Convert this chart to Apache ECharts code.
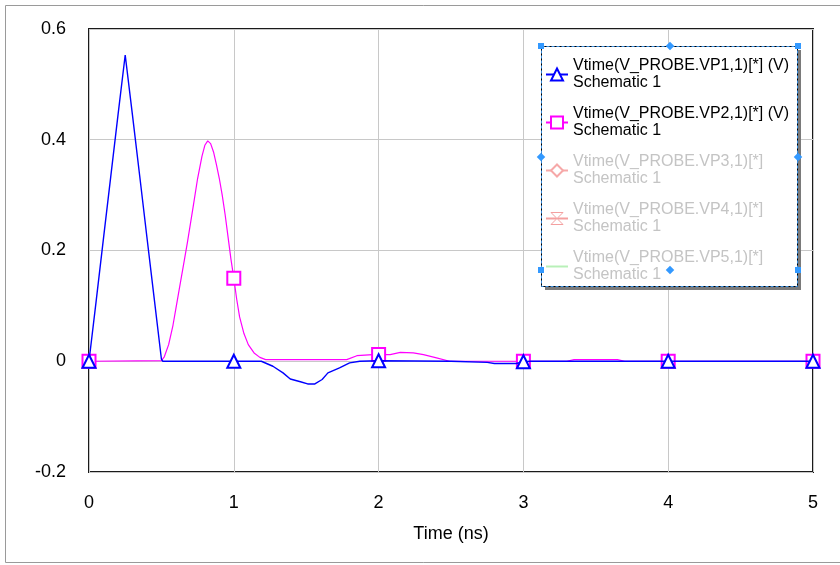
<!DOCTYPE html>
<html>
<head>
<meta charset="utf-8">
<script src="https://cdn.jsdelivr.net/npm/echarts@6/dist/echarts.min.js"></script>
<style>
  html, body { margin: 0; padding: 0; background: #fff; }
  #chart { width: 840px; height: 565px; }
</style>
</head>
<body>
<div id="chart"></div>
<script>
// values (time in ns, voltage in V)
const vp1Time = [0, 0.05, 0.1, 0.15, 0.2, 0.25, 0.3, 0.35, 0.4, 0.45, 0.5, 0.51, 1, 1.19, 1.27, 1.34, 1.39, 1.46, 1.51, 1.56, 1.61, 1.65, 1.73, 1.8, 1.87, 2, 2.5, 2.75, 2.8, 2.95, 3, 3.05, 4, 5]
const vp1Volt = [0, 0.11, 0.222, 0.333, 0.444, 0.553, 0.445, 0.335, 0.224, 0.114, 0.004, 0, 0, 0, -0.009, -0.021, -0.032, -0.037, -0.041, -0.041, -0.033, -0.021, -0.012, -0.003, 0, 0.001, 0, -0.002, -0.004, -0.004, -0.001, 0, 0, 0]

const vp2Time = [0, 0.5, 0.52, 0.55, 0.58, 0.6, 0.63, 0.66, 0.68, 0.72, 0.75, 0.78, 0.8, 0.82, 0.84, 0.86, 0.88, 0.9, 0.92, 0.94, 0.96, 0.98, 1, 1.02, 1.04, 1.07, 1.1, 1.14, 1.18, 1.22, 1.78, 1.85, 1.96, 2, 2.08, 2.15, 2.24, 2.31, 2.4, 2.49, 3, 3.3, 3.35, 3.65, 3.7, 4, 5]
const vp2Volt = [0, 0.001, 0.008, 0.03, 0.065, 0.095, 0.14, 0.185, 0.215, 0.28, 0.33, 0.37, 0.39, 0.398, 0.393, 0.378, 0.355, 0.33, 0.3, 0.265, 0.225, 0.185, 0.15, 0.112, 0.08, 0.05, 0.03, 0.015, 0.007, 0.003, 0.003, 0.01, 0.012, 0.012, 0.012, 0.016, 0.015, 0.012, 0.006, 0, 0, 0, 0.003, 0.003, 0, 0, 0]

const xTicks = [0, 1, 2, 3, 4, 5]
const yTicks = [-0.2, 0, 0.2, 0.4, 0.6]

const seriesNames = [
  'Vtime(V_PROBE.VP1,1)[*] (V)',
  'Vtime(V_PROBE.VP2,1)[*] (V)',
  'Vtime(V_PROBE.VP3,1)[*]',
  'Vtime(V_PROBE.VP4,1)[*]',
  'Vtime(V_PROBE.VP5,1)[*]'
]

const FONT = 'Liberation Sans, Arial, sans-serif'

// markers only on whole nanoseconds, like the simulator does
function toData(times, volts) {
  return times.map((t, i) => Number.isInteger(t) ? [t, volts[i]] : { value: [t, volts[i]], symbol: 'none' })
}

function handle(x, y, diamond) {
  return {
    type: 'rect', z: 6,
    x: x, y: y, rotation: diamond ? Math.PI / 4 : 0,
    shape: { x: -3, y: -3, width: 6, height: 6 },
    style: { fill: '#3399ff' }
  }
}

var chart = echarts.init(document.getElementById('chart'))
var option = {
  animation: false,
  backgroundColor: '#fff',
  grid: {
    left: 89, top: 29, width: 724, height: 443,
    show: true, borderColor: '#1a1a1a', borderWidth: 2, backgroundColor: 'transparent'
  },
  xAxis: {
    type: 'value', min: xTicks[0], max: xTicks[xTicks.length - 1], interval: 1,
    axisLine: { show: false }, axisTick: { show: false },
    splitLine: { lineStyle: { color: '#c8c8c8', width: 1 } },
    axisLabel: { color: '#000', fontFamily: FONT, fontSize: 18, margin: 22 },
    name: 'Time (ns)', nameLocation: 'middle', nameGap: 53,
    nameTextStyle: { color: '#000', fontFamily: FONT, fontSize: 18 }
  },
  yAxis: {
    type: 'value', min: yTicks[0], max: yTicks[yTicks.length - 1], interval: 0.2,
    axisLine: { show: false }, axisTick: { show: false },
    splitLine: { lineStyle: { color: '#c8c8c8', width: 1 } },
    axisLabel: {
      color: '#000', fontFamily: FONT, fontSize: 18, margin: 23,
      formatter: v => String(+v.toFixed(1))
    }
  },
  legend: {
    orient: 'vertical', left: 545, top: 49, padding: 0, z: 10,
    selectedMode: false,
    itemWidth: 22, itemHeight: 15, itemGap: -3,
    formatter: name => name + '\nSchematic 1',
    textStyle: { fontFamily: FONT, fontSize: 16, lineHeight: 17, color: '#000', padding: [17, 0, 0, 0] },
    data: [
      { name: seriesNames[0] },
      { name: seriesNames[1] },
      { name: seriesNames[2], textStyle: { color: '#c4c4c4' } },
      { name: seriesNames[3], textStyle: { color: '#c4c4c4' }, itemStyle: { color: '#fff', borderColor: '#f4a0a0', borderWidth: 1 } },
      { name: seriesNames[4], textStyle: { color: '#c4c4c4' }, itemStyle: { opacity: 0 } }
    ]
  },
  graphic: [
    { type: 'rect', z: 4, shape: { x: 5.5, y: 5.5, width: 860, height: 557 }, style: { fill: null, stroke: '#9a9a9a', lineWidth: 1 } },
    { type: 'rect', z: 5, shape: { x: 545, y: 50, width: 256, height: 240 }, style: { fill: '#7a7a7a' } },
    { type: 'rect', z: 5, shape: { x: 541.5, y: 46.5, width: 256, height: 240 }, style: { fill: '#fff', stroke: '#000', lineWidth: 1 } },
    { type: 'rect', z: 5, shape: { x: 541.5, y: 46.5, width: 256, height: 240 }, style: { fill: null, stroke: '#3b8ede', lineWidth: 1, lineDash: [3, 2] } },
    handle(541, 46, false), handle(670, 46, true), handle(798, 46, false),
    handle(541, 157, true), handle(798, 157, true),
    handle(541, 270, false), handle(670, 270, true), handle(798, 270, false)
  ],
  series: [
    {
      name: seriesNames[0], type: 'line', data: toData(vp1Time, vp1Volt),
      symbol: 'emptyTriangle', symbolSize: 13, color: '#0000ff',
      lineStyle: { color: '#0000ff', width: 1.4 }, itemStyle: { borderWidth: 1.4 }, z: 3
    },
    {
      name: seriesNames[1], type: 'line', data: toData(vp2Time, vp2Volt),
      symbol: 'emptyRect', symbolSize: 13, color: '#ff00ff',
      lineStyle: { color: '#ff00ff', width: 1.2 }, itemStyle: { borderWidth: 1.2 }, z: 2
    },
    { name: seriesNames[2], type: 'line', data: [], symbol: 'emptyDiamond', symbolSize: 12, color: '#f6a8a8', lineStyle: { color: '#f6a8a8' } },
    { name: seriesNames[3], type: 'line', data: [], symbol: 'path://M0,0H10L5,5L10,10H0L5,5Z', symbolSize: 12, color: '#f4a0a0', lineStyle: { color: '#f4a0a0' } },
    { name: seriesNames[4], type: 'line', data: [], symbol: 'none', color: '#b8f0b8', lineStyle: { color: '#b8f0b8' } }
  ]
}
chart.setOption(option)
</script>
</body>
</html>
